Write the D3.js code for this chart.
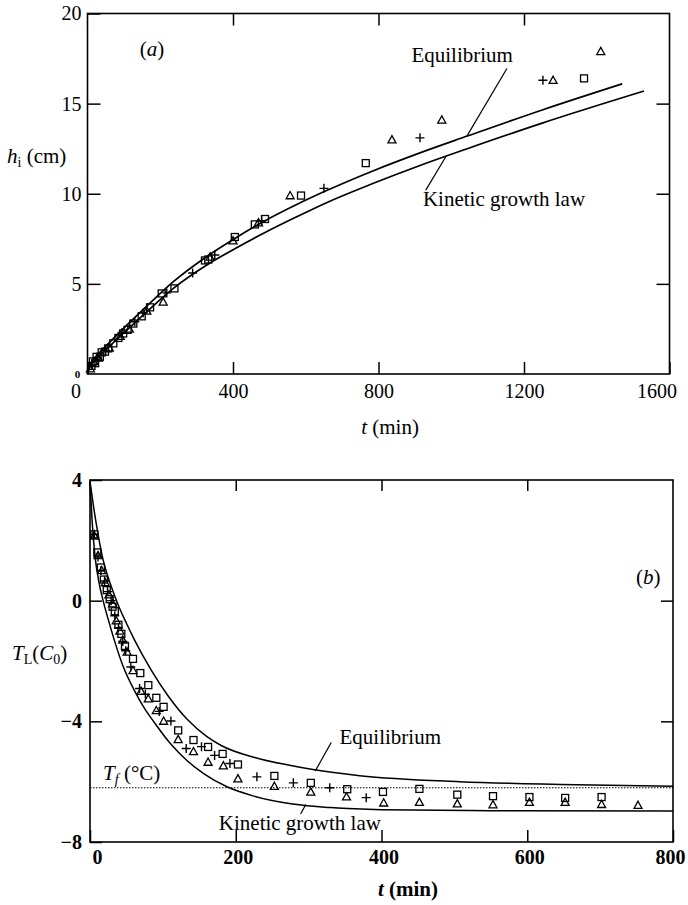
<!DOCTYPE html>
<html><head><meta charset="utf-8">
<script src="https://cdn.jsdelivr.net/npm/d3@7"></script>
<style>
html,body{margin:0;padding:0;background:#fff;}
svg{display:block;font-family:"Liberation Serif","Times New Roman",serif;}
</style></head>
<body>
<svg id="chart" width="688" height="905"></svg>
<script>
// ---------- Panel (a) data: ice thickness h_i (cm) vs t (min) ----------
const aTicksX = [0, 400, 800, 1200, 1600];
const aTicksY = [5, 10, 15, 20];
const aSquares = [[11,0.45],[15,0.7],[21,0.6],[25,0.95],[34,0.96],[39,1.2],[48,1.24],[57,1.42],[71,1.7],[85,2.0],[98,2.25],[110,2.45],[126,2.8],[149,3.2],[172,3.7],[204,4.47],[239,4.75],[323,6.3],[332,6.35],[405,7.6],[460,8.3],[488,8.6],[587,9.9],[765,11.7],[1365,16.4]];
const aTriangles = [[8,0.3],[18,0.7],[30,0.9],[60,1.45],[90,2.1],[115,2.5],[163,3.5],[208,4.0],[337,6.5],[400,7.4],[470,8.4],[557,9.9],[837,13.0],[974,14.1],[1280,16.3],[1411,17.9]];
const aPlus = [[12,0.5],[28,0.9],[50,1.3],[95,2.3],[130,2.9],[153,3.4],[218,4.5],[289,5.6],[350,6.6],[479,8.5],[650,10.3],[914,13.1],[1252,16.3]];
const aEquilibrium = [[0,0],[5,0.4],[15,0.75],[30,1.12],[50,1.55],[75,2.05],[100,2.55],[144,3.4],[190,4.28],[236,5.12],[328,6.52],[405,7.52],[488,8.5],[575,9.4],[651,10.12],[786,11.28],[914,12.27],[1044,13.2],[1250,14.65],[1470,16.1]];
const aKinetic = [[0,0],[5,0.3],[15,0.62],[30,0.95],[50,1.35],[75,1.82],[100,2.28],[144,3.1],[190,3.95],[236,4.75],[328,6.05],[405,6.95],[488,7.85],[575,8.72],[651,9.45],[786,10.58],[914,11.57],[1044,12.5],[1250,13.92],[1530,15.7]];

// ---------- Panel (b) data: T_L(C_0) vs t (min) ----------
const bTicksX = [0, 200, 400, 600, 800];
const bTicksY = [4, 0, -4, -8];
const bTf = -6.2;
const bSquares = [[6,2.2],[10,1.6],[15,1.1],[19,0.7],[23,0.35],[27,0.05],[31,-0.2],[34,-0.35],[39,-0.8],[43,-1.1],[48,-1.5],[59,-1.93],[69,-2.4],[80,-2.8],[91,-3.22],[101,-3.52],[121,-4.3],[142,-4.62],[162,-4.85],[182,-5.08],[203,-5.43],[253,-5.81],[303,-6.04],[353,-6.25],[402,-6.34],[452,-6.24],[504,-6.43],[553,-6.48],[603,-6.51],[652,-6.54],[702,-6.51]];
const bTriangles = [[6,2.15],[11,1.5],[16,1.0],[21,0.6],[26,0.2],[31,-0.1],[36,-0.66],[41,-1.0],[45,-1.3],[51,-1.7],[59,-2.31],[70,-3.0],[80,-3.25],[91,-3.64],[101,-3.99],[121,-4.6],[142,-5.0],[162,-5.35],[183,-5.47],[203,-5.9],[253,-6.15],[303,-6.34],[352,-6.5],[403,-6.7],[452,-6.68],[504,-6.73],[553,-6.76],[603,-6.68],[652,-6.68],[702,-6.75],[752,-6.78]];
const bPlus = [[6,2.2],[11,1.45],[15,1.0],[20,0.65],[24,0.3],[29,0.0],[34,-0.5],[39,-0.9],[45,-1.35],[49,-1.66],[56,-2.2],[68,-2.91],[76,-3.1],[95,-3.67],[111,-3.99],[132,-4.9],[153,-4.84],[171,-5.13],[192,-5.4],[229,-5.84],[279,-6.04],[329,-6.2],[379,-6.53]];
const bEquilibrium = [[0,3.95],[5,3.1],[10,2.35],[18,1.35],[28,0.55],[38,-0.1],[50,-0.75],[61,-1.3],[84,-2.3],[107,-3.15],[134,-3.95],[160,-4.5],[180,-4.8],[226,-5.2],[272,-5.45],[306,-5.6],[370,-5.8],[507,-6.0],[645,-6.09],[800,-6.15]];
const bKinetic = [[0,3.95],[3,2.6],[7,1.45],[12,0.65],[18,0],[25,-0.62],[32,-1.2],[45,-2.15],[61,-2.98],[75,-3.58],[88,-4.03],[110,-4.73],[133,-5.3],[156,-5.73],[188,-6.17],[225,-6.48],[278,-6.74],[330,-6.86],[400,-6.93],[550,-6.96],[800,-6.97]];

// ---------- drawing ----------
const svg = d3.select("#chart");
const FS = 21, TFS = 20;

function markerSquare(g, data, x, y){
  g.selectAll(null).data(data).enter().append("rect")
    .attr("x", d => x(d[0]) - 3.5).attr("y", d => y(d[1]) - 3.5)
    .attr("width", 7).attr("height", 7)
    .attr("fill", "none").attr("stroke", "#000").attr("stroke-width", 1.3);
}
function markerTriangle(g, data, x, y){
  g.selectAll(null).data(data).enter().append("path")
    .attr("d", d => { const cx = x(d[0]), cy = y(d[1]);
      return `M${cx},${cy-4}L${cx+4},${cy+3.2}L${cx-4},${cy+3.2}Z`; })
    .attr("fill", "none").attr("stroke", "#000").attr("stroke-width", 1.3);
}
function markerPlus(g, data, x, y){
  g.selectAll(null).data(data).enter().append("path")
    .attr("d", d => { const cx = x(d[0]), cy = y(d[1]);
      return `M${cx-4.5},${cy}H${cx+4.5}M${cx},${cy-4.5}V${cy+4.5}`; })
    .attr("fill", "none").attr("stroke", "#000").attr("stroke-width", 1.4);
}
function styleAxis(g, weight, size){
  g.select(".domain").remove();
  g.selectAll(".tick line").attr("stroke", "#000").attr("stroke-width", 1.5);
  g.selectAll(".tick text").attr("fill", "#000")
    .attr("font-family", '"Liberation Serif","Times New Roman",serif')
    .attr("font-size", size).attr("font-weight", weight);
}
function frame(x, y){
  const [x0, x1] = x.range(), [y0, y1] = y.range();
  svg.append("rect").attr("x", x0).attr("y", Math.min(y0, y1))
    .attr("width", x1 - x0).attr("height", Math.abs(y0 - y1))
    .attr("fill", "none").attr("stroke", "#000").attr("stroke-width", 1.6);
}

// ===== Panel (a) =====
const xA = d3.scaleLinear().domain([0, 1600]).range([87.5, 669.5]);
const yA = d3.scaleLinear().domain([0, 20]).range([374, 13.5]);

const axA_b = svg.append("g").attr("transform", `translate(0,${yA(0)})`)
  .call(d3.axisBottom(xA).tickValues(aTicksX).tickSizeInner(-12).tickSizeOuter(0).tickPadding(10).tickFormat(d3.format("d")));
styleAxis(axA_b, "normal", TFS);
axA_b.selectAll(".tick text").attr("dx", d => d === 0 ? -12 : (d === 1600 ? -13 : 0));
const axA_t = svg.append("g").attr("transform", `translate(0,${yA(20)})`)
  .call(d3.axisTop(xA).tickValues(aTicksX.slice(1, -1)).tickSizeInner(-12).tickSizeOuter(0).tickFormat(""));
styleAxis(axA_t, "normal", TFS);
const axA_l = svg.append("g").attr("transform", `translate(${xA(0)},0)`)
  .call(d3.axisLeft(yA).tickValues(aTicksY).tickSizeInner(-13).tickSizeOuter(0).tickPadding(6).tickFormat(d3.format("d")));
styleAxis(axA_l, "normal", TFS);
const axA_r = svg.append("g").attr("transform", `translate(${xA(1600)},0)`)
  .call(d3.axisRight(yA).tickValues(aTicksY.slice(0, -1)).tickSizeInner(-13).tickSizeOuter(0).tickFormat(""));
styleAxis(axA_r, "normal", TFS);
// small zero at origin of the y axis
svg.append("text").attr("x", xA(0) - 10).attr("y", yA(0) + 4)
  .attr("text-anchor", "middle").attr("font-size", 11).attr("font-weight", "bold").text("0");

frame(xA, yA);

const lineA = d3.line().x(d => xA(d[0])).y(d => yA(d[1])).curve(d3.curveMonotoneX);
const gA = svg.append("g");
gA.append("path").datum(aEquilibrium).attr("d", lineA).attr("fill", "none").attr("stroke", "#000").attr("stroke-width", 1.7);
gA.append("path").datum(aKinetic).attr("d", lineA).attr("fill", "none").attr("stroke", "#000").attr("stroke-width", 1.7);
markerSquare(gA, aSquares, xA, yA);
markerTriangle(gA, aTriangles, xA, yA);
markerPlus(gA, aPlus, xA, yA);

// annotations (a)
svg.append("text").attr("x", xA(177)).attr("y", yA(17.62)).attr("text-anchor", "middle").attr("font-size", FS)
  .html('(<tspan font-style="italic">a</tspan>)');
svg.append("text").attr("x", xA(1030)).attr("y", yA(17.3)).attr("text-anchor", "middle").attr("font-size", FS).text("Equilibrium");
svg.append("line").attr("x1", xA(1153)).attr("y1", yA(16.95)).attr("x2", xA(1043)).attr("y2", yA(13.2)).attr("stroke", "#000").attr("stroke-width", 1.2);
svg.append("text").attr("x", xA(1145)).attr("y", yA(9.3)).attr("text-anchor", "middle").attr("font-size", FS).text("Kinetic growth law");
svg.append("line").attr("x1", xA(985)).attr("y1", yA(12.05)).attr("x2", xA(930)).attr("y2", yA(10.2)).attr("stroke", "#000").attr("stroke-width", 1.2);

// axis titles (a)
svg.append("text").attr("x", 7).attr("y", 163).attr("font-size", FS)
  .html('<tspan font-style="italic">h</tspan><tspan font-size="14" dy="4">i</tspan><tspan dy="-4"> (cm)</tspan>');
svg.append("text").attr("x", 390).attr("y", 434).attr("text-anchor", "middle").attr("font-size", FS)
  .html('<tspan font-style="italic">t</tspan> (min)');

// ===== Panel (b) =====
const xB = d3.scaleLinear().domain([0, 800]).range([90, 673]);
const yB = d3.scaleLinear().domain([-8, 4]).range([842, 480]);

const axB_b = svg.append("g").attr("transform", `translate(0,${yB(-8)})`)
  .call(d3.axisBottom(xB).tickValues(bTicksX).tickSizeInner(-12).tickSizeOuter(0).tickPadding(8).tickFormat(d3.format("d")));
styleAxis(axB_b, "bold", TFS);
axB_b.selectAll(".tick text").attr("dx", d => d === 0 ? 7 : (d === 800 ? -3 : 2));
const axB_t = svg.append("g").attr("transform", `translate(0,${yB(4)})`)
  .call(d3.axisTop(xB).tickValues(bTicksX.slice(1, -1)).tickSizeInner(-11).tickSizeOuter(0).tickFormat(""));
styleAxis(axB_t, "bold", TFS);
const axB_l = svg.append("g").attr("transform", `translate(${xB(0)},0)`)
  .call(d3.axisLeft(yB).tickValues(bTicksY).tickSizeInner(-12).tickSizeOuter(0).tickPadding(8).tickFormat(d3.format("d")));
styleAxis(axB_l, "bold", TFS);
const axB_r = svg.append("g").attr("transform", `translate(${xB(800)},0)`)
  .call(d3.axisRight(yB).tickValues(bTicksY.slice(1, -1)).tickSizeInner(-12).tickSizeOuter(0).tickFormat(""));
styleAxis(axB_r, "bold", TFS);

frame(xB, yB);

const lineB = d3.line().x(d => xB(d[0])).y(d => yB(d[1])).curve(d3.curveMonotoneX);
const gB = svg.append("g");
gB.append("line").attr("x1", xB(0)).attr("x2", xB(800)).attr("y1", yB(bTf)).attr("y2", yB(bTf))
  .attr("stroke", "#000").attr("stroke-width", 1.1).attr("stroke-dasharray", "1.5,1.5");
gB.append("path").datum(bEquilibrium).attr("d", lineB).attr("fill", "none").attr("stroke", "#000").attr("stroke-width", 1.5);
gB.append("path").datum(bKinetic).attr("d", lineB).attr("fill", "none").attr("stroke", "#000").attr("stroke-width", 1.5);
markerSquare(gB, bSquares, xB, yB);
markerTriangle(gB, bTriangles, xB, yB);
markerPlus(gB, bPlus, xB, yB);

// annotations (b)
svg.append("text").attr("x", xB(766)).attr("y", yB(0.55)).attr("text-anchor", "middle").attr("font-size", FS)
  .html('(<tspan font-style="italic">b</tspan>)');
svg.append("text").attr("x", xB(412)).attr("y", yB(-4.75)).attr("text-anchor", "middle").attr("font-size", FS).text("Equilibrium");
svg.append("line").attr("x1", xB(331)).attr("y1", yB(-4.7)).attr("x2", xB(309)).attr("y2", yB(-5.65)).attr("stroke", "#000").attr("stroke-width", 1.2);
svg.append("text").attr("x", xB(288)).attr("y", yB(-7.6)).attr("text-anchor", "middle").attr("font-size", FS).text("Kinetic growth law");
svg.append("line").attr("x1", xB(296)).attr("y1", yB(-6.76)).attr("x2", xB(289)).attr("y2", yB(-7.07)).attr("stroke", "#000").attr("stroke-width", 1.2);
svg.append("text").attr("x", xB(18)).attr("y", yB(-5.94)).attr("font-size", FS)
  .html('<tspan font-style="italic">T</tspan><tspan font-style="italic" font-size="14" dy="4">f</tspan><tspan dy="-4"> (°C)</tspan>');

// axis titles (b)
svg.append("text").attr("x", 12).attr("y", 660).attr("font-size", FS)
  .html('<tspan font-style="italic">T</tspan><tspan font-size="14" dy="4">L</tspan><tspan dy="-4">(</tspan><tspan font-style="italic">C</tspan><tspan font-size="14" dy="4">0</tspan><tspan dy="-4">)</tspan>');
svg.append("text").attr("x", 408).attr("y", 896).attr("text-anchor", "middle").attr("font-size", FS).attr("font-weight", "bold")
  .html('<tspan font-style="italic">t</tspan> (min)');
</script>
</body></html>
